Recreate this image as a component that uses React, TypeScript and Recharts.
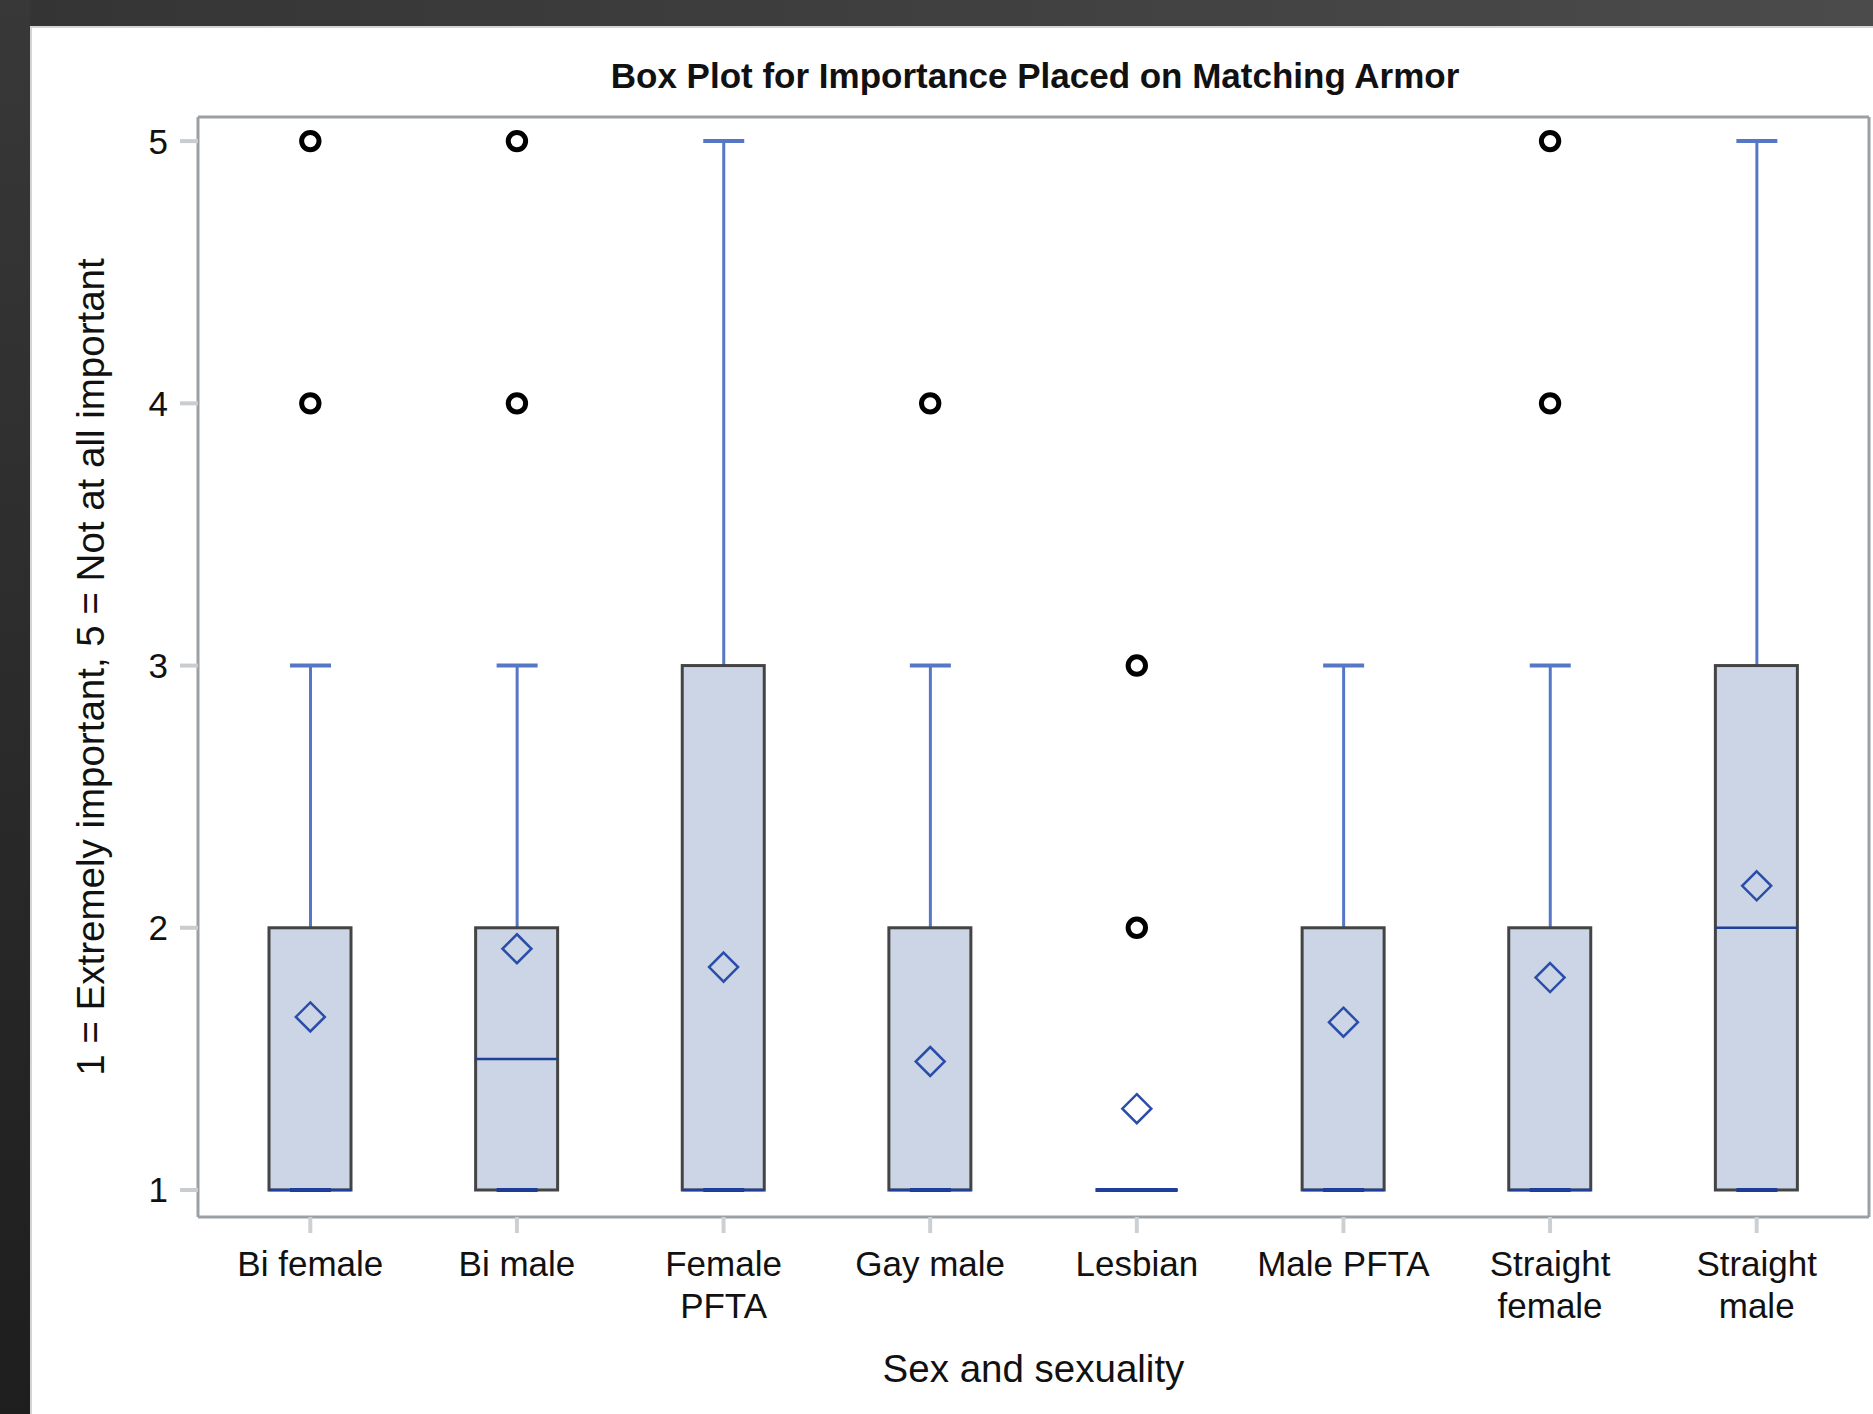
import React from 'react';
import { ComposedChart, Bar, Scatter, XAxis, YAxis } from 'recharts';

const categories = ['Bi female', 'Bi male', 'Female PFTA', 'Gay male', 'Lesbian', 'Male PFTA', 'Straight female', 'Straight male'];
const tickLines = [['Bi female'], ['Bi male'], ['Female', 'PFTA'], ['Gay male'], ['Lesbian'], ['Male PFTA'], ['Straight', 'female'], ['Straight', 'male']];
const whiskerLow = [1, 1, 1, 1, 1, 1, 1, 1];
const q1 = [1, 1, 1, 1, 1, 1, 1, 1];
const median = [1, 1.5, 1, 1, 1, 1, 1, 2];
const q3 = [2, 2, 3, 2, 1, 2, 2, 3];
const whiskerHigh = [3, 3, 5, 3, 1, 3, 3, 5];
const means = [1.66, 1.92, 1.85, 1.49, 1.31, 1.64, 1.81, 2.16];
const outliers = [[4, 5], [4, 5], [], [4], [2, 3], [], [4, 5], []];
const yTicks = [1, 2, 3, 4, 5];
const yDomain = [0.897, 5.092];

const title = 'Box Plot for Importance Placed on Matching Armor';
const xTitle = 'Sex and sexuality';
const yTitle = '1 = Extremely important, 5 = Not at all important';

const data = categories.map((name, i) => ({
  name,
  box: [q1[i], q3[i]],
  upper: [q3[i], whiskerHigh[i]],
  lower: [whiskerLow[i], q1[i]],
  median: median[i],
  mean: means[i],
  out0: outliers[i][0],
  out1: outliers[i][1],
}));

const FONT = '"Liberation Sans", Arial, Helvetica, sans-serif';
const BOX_W = 82;
const CAP_W = 41;
const WHISK = '#5577c6';
const MED = '#1f3f9c';

const BoxShape = (p: any) => {
  const top = Math.min(p.y, p.y + p.height);
  const h = Math.abs(p.height);
  if (!(h >= 0.5)) {
    return <line x1={p.x} x2={p.x + p.width} y1={top} y2={top} stroke={MED} strokeWidth={4} />;
  }
  return <rect x={p.x} y={top} width={p.width} height={h} fill="#cbd5e5" stroke="#444" strokeWidth={3} />;
};

const UpperWhisker = (p: any) => {
  const top = Math.min(p.y, p.y + p.height);
  const bottom = Math.max(p.y, p.y + p.height);
  if (!(bottom - top >= 0.5)) return null;
  const cx = p.x + p.width / 2;
  return (
    <g>
      <line x1={cx} x2={cx} y1={top} y2={bottom} stroke={WHISK} strokeWidth={3} />
      <line x1={p.x} x2={p.x + p.width} y1={top} y2={top} stroke={WHISK} strokeWidth={4} />
    </g>
  );
};

const LowerWhisker = (p: any) => {
  const top = Math.min(p.y, p.y + p.height);
  const bottom = Math.max(p.y, p.y + p.height);
  const cx = p.x + p.width / 2;
  return (
    <g>
      {bottom - top >= 0.5 && <line x1={cx} x2={cx} y1={top} y2={bottom} stroke={WHISK} strokeWidth={3} />}
      <line x1={p.x} x2={p.x + p.width} y1={bottom} y2={bottom} stroke="#1d3c96" strokeWidth={4} />
    </g>
  );
};

const MedianShape = (p: any) => {
  if (p.cx == null || p.cy == null || isNaN(p.cy)) return null;
  return <line x1={p.cx - BOX_W / 2} x2={p.cx + BOX_W / 2} y1={p.cy} y2={p.cy} stroke={MED} strokeWidth={2.5} />;
};

const MeanShape = (p: any) => {
  if (p.cx == null || p.cy == null || isNaN(p.cy)) return null;
  const r = 14.5;
  const { cx, cy } = p;
  return (
    <path
      d={`M${cx},${cy - r}L${cx + r},${cy}L${cx},${cy + r}L${cx - r},${cy}Z`}
      fill="none"
      stroke="#2b4daa"
      strokeWidth={2.5}
    />
  );
};

const OutlierShape = (p: any) => {
  if (p.cx == null || p.cy == null || isNaN(p.cy)) return null;
  return <circle cx={p.cx} cy={p.cy} r={8.7} fill="none" stroke="#000" strokeWidth={5} />;
};

const XTick = (p: any) => {
  const idx = categories.indexOf(p.payload.value);
  const lines = idx >= 0 ? tickLines[idx] : [String(p.payload.value)];
  return (
    <text x={p.x} y={p.y} textAnchor="middle" fontSize={35} fill="#111" fontFamily={FONT}>
      {lines.map((l, k) => (
        <tspan key={k} x={p.x} dy={k === 0 ? 43 : 42}>
          {l}
        </tspan>
      ))}
    </text>
  );
};

const YTitle = (p: any) => {
  const vb = p.viewBox || {};
  const cy = (vb.y ?? 117) + (vb.height ?? 1100) / 2;
  const cx = 90;
  return (
    <text
      x={cx}
      y={cy}
      transform={`rotate(-90 ${cx} ${cy})`}
      textAnchor="middle"
      dominantBaseline="central"
      fontSize={38.5}
      fill="#111"
      fontFamily={FONT}
    >
      {yTitle}
    </text>
  );
};

const XTitle = (p: any) => {
  const vb = p.viewBox || {};
  const cx = (vb.x ?? 198) + (vb.width ?? 1671) / 2;
  const cy = (vb.y ?? 1217) + 151;
  return (
    <text x={cx} y={cy} textAnchor="middle" dominantBaseline="central" fontSize={38.5} fill="#111" fontFamily={FONT}>
      {xTitle}
    </text>
  );
};

const frameLine = { stroke: '#9ba0a5', strokeWidth: 3 };
const pad = { left: 9, right: 9 };

export default function App() {
  return (
    <div style={{ position: 'absolute', left: 0, top: 0, width: 1873, height: 1414, overflow: 'hidden', background: '#3a3a3a' }}>
      <div style={{ position: 'absolute', left: 0, top: 0, width: 1873, height: 26, background: 'linear-gradient(to right, #343434, #4b4b4b)' }} />
      <div style={{ position: 'absolute', left: 0, top: 0, width: 30, height: 1414, background: 'linear-gradient(to bottom, #383838, #1e1e1e)' }} />
      <div
        style={{
          position: 'absolute',
          left: 30,
          top: 26,
          width: 1843,
          height: 1388,
          background: '#fff',
          borderTop: '2px solid #d4d4d4',
          borderLeft: '2px solid #d4d4d4',
          boxSizing: 'border-box',
        }}
      />
      <div
        style={{
          position: 'absolute',
          left: 1035,
          top: 51,
          transform: 'translateX(-50%)',
          height: 50,
          lineHeight: '50px',
          whiteSpace: 'nowrap',
          fontFamily: FONT,
          fontWeight: 'bold',
          fontSize: 35,
          color: '#111',
        }}
      >
        {title}
      </div>
      <div style={{ position: 'absolute', left: 0, top: 0 }}>
        <ComposedChart width={1873} height={1414} data={data} margin={{ top: 116, right: 3, bottom: 0, left: 0 }}>
          <XAxis
            dataKey="name"
            height={197}
            padding={pad}
            tick={<XTick />}
            tickSize={16}
            tickMargin={0}
            interval={0}
            axisLine={frameLine}
            tickLine={{ stroke: '#cdd0d3', strokeWidth: 4 }}
            label={<XTitle />}
          />
          <XAxis xAxisId="top" orientation="top" dataKey="name" height={1} padding={pad} tick={false} tickLine={false} axisLine={frameLine} />
          <XAxis xAxisId="wl" dataKey="name" hide padding={pad} />
          <YAxis
            type="number"
            domain={yDomain}
            ticks={yTicks}
            allowDataOverflow
            width={198}
            tickSize={18}
            tickMargin={12}
            tick={{ fontSize: 35, fill: '#111', fontFamily: FONT }}
            axisLine={frameLine}
            tickLine={{ stroke: '#c9cdd0', strokeWidth: 4 }}
            label={<YTitle />}
          />
          <YAxis
            yAxisId="r"
            orientation="right"
            type="number"
            domain={yDomain}
            ticks={yTicks}
            allowDataOverflow
            width={1}
            tick={false}
            tickLine={false}
            axisLine={frameLine}
          />
          <Bar dataKey="upper" xAxisId="top" barSize={CAP_W} shape={<UpperWhisker />} isAnimationActive={false} />
          <Bar dataKey="box" barSize={BOX_W} shape={<BoxShape />} isAnimationActive={false} />
          <Bar dataKey="lower" xAxisId="wl" yAxisId="r" barSize={CAP_W} shape={<LowerWhisker />} isAnimationActive={false} />
          <Scatter dataKey="median" shape={<MedianShape />} isAnimationActive={false} />
          <Scatter dataKey="mean" shape={<MeanShape />} isAnimationActive={false} />
          <Scatter dataKey="out0" shape={<OutlierShape />} isAnimationActive={false} />
          <Scatter dataKey="out1" shape={<OutlierShape />} isAnimationActive={false} />
        </ComposedChart>
      </div>
    </div>
  );
}
